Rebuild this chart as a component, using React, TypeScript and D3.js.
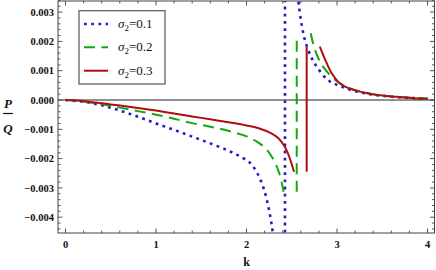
import React from "react";
import * as d3 from "d3";

// ---- data ----
const sigmaLabels = ["0.1", "0.2", "0.3"];
const seriesColors = ["#1f1fc8", "#12a812", "#b00d0d"];

const blueLeft: [number, number][] = [
  [0, 0], [0.2, -0.00006], [0.4, -0.00018], [0.6, -0.00036], [0.8, -0.00057],
  [1.0, -0.0008], [1.2, -0.00102], [1.4, -0.00125], [1.6, -0.00148], [1.8, -0.00173],
  [1.95, -0.00196], [2.05, -0.00218], [2.12, -0.0025], [2.19, -0.00302],
  [2.24, -0.00362], [2.28, -0.0043], [2.31, -0.005],
];
const blueRight: [number, number][] = [
  [2.565, 0.0036], [2.58, 0.0032], [2.61, 0.00256], [2.65, 0.002], [2.72, 0.00143],
  [2.78, 0.00112], [2.9, 0.00068], [3.03, 0.00048], [3.2, 0.0003], [3.4, 0.00018],
  [3.6, 0.00011], [3.8, 0.00007], [4.0, 0.00005],
];
const greenLeft: [number, number][] = [
  [0, 0], [0.2, -0.00005], [0.5, -0.0002], [0.8, -0.00038], [1.0, -0.0005],
  [1.2, -0.00064], [1.4, -0.00079], [1.6, -0.00091], [1.8, -0.00105], [2.0, -0.00124],
  [2.12, -0.00143], [2.22, -0.00168], [2.3, -0.00205], [2.36, -0.00248], [2.41, -0.00313],
];
const greenRight: [number, number][] = [
  [2.71, 0.00228], [2.74, 0.00188], [2.79, 0.00145], [2.85, 0.00112], [2.98, 0.00068],
  [3.1, 0.00046], [3.22, 0.00032], [3.4, 0.0002], [3.6, 0.00012], [3.8, 0.00008],
  [4.0, 0.00005],
];
const redLeft: [number, number][] = [
  [0, 0], [0.2, -0.00004], [0.5, -0.00015], [0.8, -0.00027], [1.0, -0.00036],
  [1.2, -0.00046], [1.4, -0.00056], [1.6, -0.00066], [1.8, -0.00076], [2.0, -0.00087],
  [2.15, -0.00098], [2.27, -0.00113], [2.35, -0.0013], [2.42, -0.00158],
  [2.47, -0.00192], [2.525, -0.00245],
];
const redRight: [number, number][] = [
  [2.81, 0.00182], [2.87, 0.00137], [2.94, 0.00092], [3.03, 0.00057], [3.1, 0.00044],
  [3.29, 0.00026], [3.5, 0.00015], [3.66, 0.00011], [3.85, 0.00006], [4.0, 0.00004],
];
const poleK = [2.425, 2.555, 2.665];
const jumpLow = [-0.006, -0.00313, -0.00245];
const jumpHigh = [0.005, 0.00207, 0.00182];

const kTicks = [0, 1, 2, 3, 4];
const yTicks = [-0.004, -0.003, -0.002, -0.001, 0, 0.001, 0.002, 0.003];

const W = 436, H = 270;
const FL = 58, FR = 434.5, FT = 1, FB = 233;

export default function App() {
  const x = d3.scaleLinear().domain([0, 4]).range([65.5, 427.5]);
  const y = d3.scaleLinear().domain([0, 0.003]).range([100, 12.1]);
  const line = d3.line<[number, number]>().x(d => x(d[0])).y(d => y(d[1])).curve(d3.curveCatmullRom.alpha(0.5));
  const vline = d3.line<[number, number]>().x(d => x(d[0])).y(d => y(d[1]));

  const dashes = ["2.8 4.4", "11 6.5", null];
  const widths = [2.6, 2, 2];
  const branches = [
    [blueLeft, blueRight],
    [greenLeft, greenRight],
    [redLeft, redRight],
  ];

  const kMinorAll = d3.range(0, 4.1, 0.2);
  const yMinor = d3.range(-0.0044, 0.00341, 0.0002);

  const font = "'Liberation Serif', 'DejaVu Serif', serif";
  const fmt = (v: number) => {
    const s = Math.abs(v).toFixed(3);
    return v < -1e-9 ? "\u2212" + s : s;
  };

  return (
    <svg width={W} height={H} style={{ position: "absolute", left: 0, top: 0, background: "#fff" }}>
      <defs>
        <clipPath id="plotClip">
          <rect x={FL} y={FT} width={FR - FL} height={FB - FT} />
        </clipPath>
      </defs>
      <rect x={0} y={0} width={W} height={H} fill="#fff" />

      {/* zero line */}
      <line x1={FL} x2={FR} y1={y(0)} y2={y(0)} stroke="#222" strokeWidth={1.2} />

      <g clipPath="url(#plotClip)">
        {branches.map((br, i) => (
          <g key={i} fill="none" stroke={seriesColors[i]} strokeWidth={widths[i]}
             strokeDasharray={dashes[i] ?? undefined}>
            <path d={line(br[0]) ?? ""} />
            <path d={vline([[poleK[i], jumpLow[i]], [poleK[i], jumpHigh[i]]]) ?? ""} />
            <path d={line(br[1]) ?? ""} />
          </g>
        ))}
      </g>

      {/* frame */}
      <rect x={FL} y={FT} width={FR - FL} height={FB - FT} fill="none" stroke="#444" strokeWidth={1} />

      {/* x ticks */}
      {kMinorAll.map((v, i) => {
        const major = Math.abs(v - Math.round(v)) < 1e-6;
        const len = major ? 4.5 : 2.5;
        return (
          <g key={"xt" + i} stroke="#444" strokeWidth={0.9}>
            <line x1={x(v)} x2={x(v)} y1={FB} y2={FB - len} />
            <line x1={x(v)} x2={x(v)} y1={FT} y2={FT + len} />
          </g>
        );
      })}
      {/* y ticks */}
      {yMinor.map((v, i) => {
        const major = Math.abs(v * 1000 - Math.round(v * 1000)) < 1e-6;
        const len = major ? 4.5 : 2.5;
        return (
          <g key={"yt" + i} stroke="#444" strokeWidth={0.9}>
            <line x1={FL} x2={FL + len} y1={y(v)} y2={y(v)} />
            <line x1={FR} x2={FR - len} y1={y(v)} y2={y(v)} />
          </g>
        );
      })}

      {/* tick labels */}
      {kTicks.map(v => (
        <text key={"xl" + v} x={x(v)} y={247.5} textAnchor="middle" fontFamily={font}
              fontWeight="bold" fontSize={10.5} fill="#111">{v}</text>
      ))}
      {yTicks.map(v => (
        <text key={"yl" + v} x={54} y={y(v) + 3.7} textAnchor="end" fontFamily={font}
              fontWeight="bold" fontSize={10.5} fill="#111">{fmt(v)}</text>
      ))}

      {/* axis labels */}
      <text x={246.5} y={266} textAnchor="middle" fontFamily={font} fontWeight="bold" fontSize={12} fill="#111">k</text>
      <text x={8} y={107.5} textAnchor="middle" fontFamily={font} fontWeight="bold" fontStyle="italic" fontSize={13} fill="#111">P</text>
      <line x1={3} x2={13} y1={113.5} y2={113.5} stroke="#111" strokeWidth={1.2} />
      <text x={8} y={132.5} textAnchor="middle" fontFamily={font} fontWeight="bold" fontStyle="italic" fontSize={13} fill="#111">Q</text>

      {/* legend */}
      <rect x={79} y={10.7} width={86} height={73.3} fill="#fff" stroke="#555" strokeWidth={1.2} />
      {sigmaLabels.map((s, i) => {
        const ly = 24 + i * 23.35;
        return (
          <g key={"lg" + i}>
            <line x1={84} x2={108} y1={ly} y2={ly} stroke={seriesColors[i]} strokeWidth={widths[i]}
                  strokeDasharray={dashes[i] ?? undefined} />
            <text x={118} y={ly + 4} fontFamily={font} fontSize={13} fill="#111">
              <tspan fontStyle="italic">σ</tspan>
              <tspan fontSize={9} dy={3}>2</tspan>
              <tspan dy={-3}>=0.{s.slice(2)}</tspan>
            </text>
          </g>
        );
      })}
    </svg>
  );
}
